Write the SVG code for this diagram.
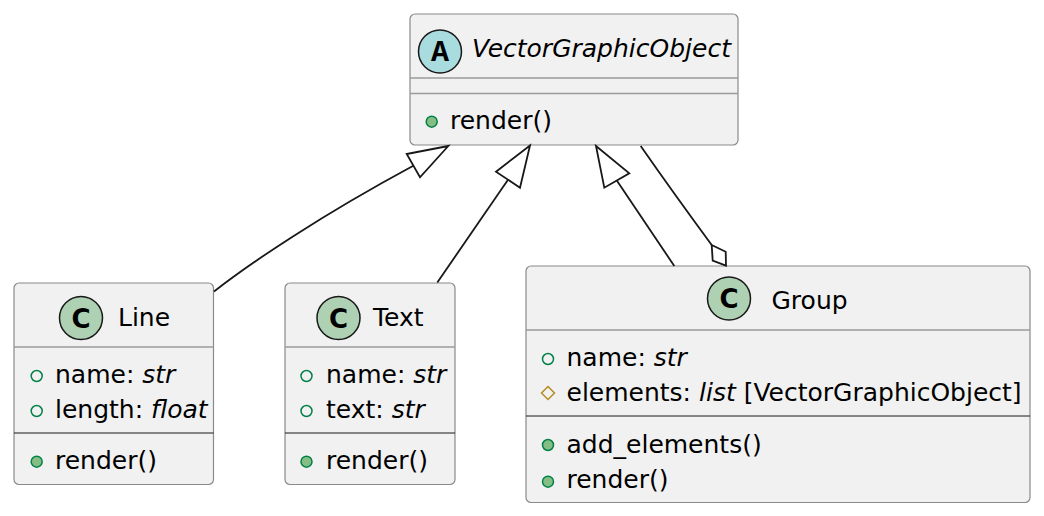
<svg xmlns="http://www.w3.org/2000/svg" width="1044" height="516" viewBox="0 0 1044 516">
<defs>
<style>
.box{fill:#F1F1F1;stroke:#8a8a8a;stroke-width:1.2}
.hsep{stroke:#9a9a9a;stroke-width:1.5}
.msep{stroke:#181818;stroke-width:1}
.t{font-family:"DejaVu Sans",sans-serif;font-size:25px;fill:#000}
.it{font-style:italic}
.cc{fill:#ADD1B2;stroke:#181818;stroke-width:1.5}
.ca{fill:#A9DCDF;stroke:#181818;stroke-width:1.5}
.cl{font-family:"DejaVu Sans",sans-serif;font-weight:bold;font-size:26px;fill:#000;text-anchor:middle}
.al{font-family:"Liberation Mono",monospace;font-weight:bold;font-size:30px;fill:#000;text-anchor:middle}
.pf{fill:none;stroke:#038048;stroke-width:1.5}
.pm{fill:#84BE84;stroke:#038048;stroke-width:1.5}
.pr{fill:none;stroke:#B38D22;stroke-width:1.5}
.edge{fill:none;stroke:#181818;stroke-width:1.8}
.head{fill:#FFFFFF;stroke:#181818;stroke-width:1.8}
</style>
</defs>
<g id="VectorGraphicObject">
<rect class="box" x="410" y="14" width="328" height="131" rx="5"/>
<circle class="ca" cx="440" cy="51.5" r="21.5"/>
<text class="al" x="440" y="61">A</text>
<text class="t it" x="472" y="57">VectorGraphicObject</text>
<line class="hsep" x1="410" y1="78" x2="738" y2="78"/>
<line class="hsep" x1="410" y1="93.5" x2="738" y2="93.5"/>
<circle class="pm" cx="431.7" cy="121.7" r="5.5"/>
<text class="t" x="450" y="129">render()</text>
</g>
<g id="Line">
<rect class="box" x="14" y="283" width="199.5" height="201.5" rx="5"/>
<circle class="cc" cx="81" cy="318" r="21.5"/>
<text class="cl" x="81" y="327.5">C</text>
<text class="t" x="118" y="326">Line</text>
<line class="hsep" x1="14" y1="347" x2="213.5" y2="347"/>
<circle class="pf" cx="36.7" cy="376" r="5.5"/>
<text class="t" x="55" y="383">name: <tspan class="it">str</tspan></text>
<circle class="pf" cx="36.7" cy="411" r="5.5"/>
<text class="t" x="55" y="418">length: <tspan class="it">float</tspan></text>
<line class="msep" x1="14" y1="433" x2="213.5" y2="433"/>
<circle class="pm" cx="36.7" cy="461.7" r="5.5"/>
<text class="t" x="55" y="468.5">render()</text>
</g>
<g id="Text">
<rect class="box" x="285" y="283" width="170" height="201.5" rx="5"/>
<circle class="cc" cx="338.5" cy="318" r="21.5"/>
<text class="cl" x="338.5" y="327.5">C</text>
<text class="t" x="373" y="326">Text</text>
<line class="hsep" x1="285" y1="347" x2="455" y2="347"/>
<circle class="pf" cx="306.5" cy="376" r="5.5"/>
<text class="t" x="326" y="383">name: <tspan class="it">str</tspan></text>
<circle class="pf" cx="306.5" cy="411" r="5.5"/>
<text class="t" x="326" y="418">text: <tspan class="it">str</tspan></text>
<line class="msep" x1="285" y1="433" x2="455" y2="433"/>
<circle class="pm" cx="306.5" cy="461.7" r="5.5"/>
<text class="t" x="326" y="468.5">render()</text>
</g>
<g id="Group">
<rect class="box" x="526" y="266" width="504" height="236.5" rx="5"/>
<circle class="cc" cx="729" cy="298.5" r="21.5"/>
<text class="cl" x="729" y="308">C</text>
<text class="t" x="771.5" y="309">Group</text>
<line class="hsep" x1="526" y1="330" x2="1030" y2="330"/>
<circle class="pf" cx="548" cy="359" r="5.5"/>
<text class="t" x="566.5" y="366">name: <tspan class="it">str</tspan></text>
<path class="pr" d="M548,386.5 L554.5,393 L548,399.5 L541.5,393 Z"/>
<text class="t" x="566.5" y="401">elements: <tspan class="it">list</tspan> [VectorGraphicObject]</text>
<line class="msep" x1="526" y1="416" x2="1030" y2="416"/>
<circle class="pm" cx="548" cy="445" r="5.5"/>
<text class="t" x="566.5" y="452.5">add_elements()</text>
<circle class="pm" cx="548" cy="481.7" r="5.5"/>
<text class="t" x="566.5" y="488">render()</text>
</g>
<g id="connectors">
<path class="edge" d="M214,291.5 C252,262 320,216 413.3,165.7"/>
<path class="head" d="M448.3,146 L406.7,154 L420,177.3 Z"/>
<path class="edge" d="M437.3,282.5 L508,179.7"/>
<path class="head" d="M530,145.5 L496,171.7 L520,187.7 Z"/>
<path class="edge" d="M674.3,266 L616.8,180.5"/>
<path class="head" d="M596,146 L629.3,173.3 L604.3,187.7 Z"/>
<path class="edge" d="M640.7,146 Q672,191 711.7,245"/>
<path class="head" d="M711.7,245 L725.7,251.7 L726,265.7 L712.7,260.7 Z"/>
</g>
</svg>
